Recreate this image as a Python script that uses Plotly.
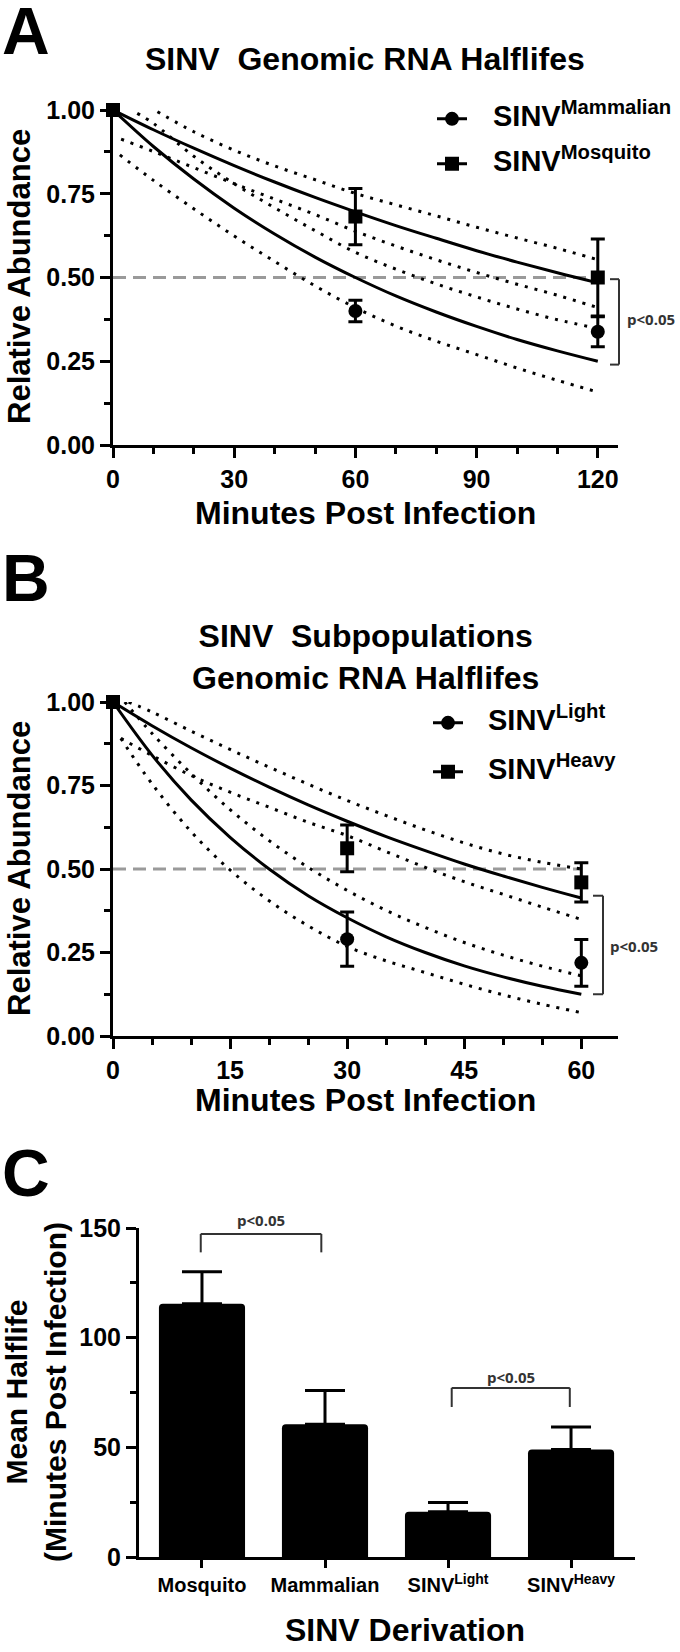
import plotly.graph_objects as go

W, H = 680, 1652


def px(x):
    return x / W


def py(y):
    return 1 - y / H


FONT = "Liberation Sans, Arial, Helvetica, sans-serif"
PFONT = "Open Sans, Liberation Sans, sans-serif"

# ---------------- Panel A data ----------------
a_time = [0, 60, 120]
a_mamm = [1.00, 0.400, 0.338]
a_mamm_err = [0, 0.032, 0.045]
a_mosq = [1.00, 0.682, 0.500]
a_mosq_err = [0, 0.084, 0.115]

a_fit_t = [0, 10, 20, 30, 40, 50, 60, 70, 80, 90, 100, 110, 120]
a_fit_mamm = [1.000, 0.891, 0.794, 0.707, 0.630, 0.561, 0.500, 0.445, 0.397, 0.354, 0.315, 0.281, 0.250]
a_fit_mosq = [1.000, 0.941, 0.886, 0.834, 0.785, 0.739, 0.696, 0.655, 0.617, 0.580, 0.546, 0.514, 0.484]

a_mosq_hi_t = [11, 20, 30, 40, 50, 60, 70, 80, 90, 100, 110, 120]
a_mosq_hi = [0.995, 0.935, 0.880, 0.833, 0.792, 0.751, 0.717, 0.684, 0.650, 0.618, 0.587, 0.553]
a_mosq_lo_t = [2, 10, 20, 30, 40, 50, 60, 70, 80, 90, 100, 110, 120]
a_mosq_lo = [0.913, 0.876, 0.828, 0.780, 0.734, 0.688, 0.638, 0.594, 0.553, 0.515, 0.480, 0.447, 0.410]
a_mamm_hi_t = [6, 10, 20, 30, 40, 50, 60, 70, 80, 90, 100, 110, 120]
a_mamm_hi = [0.990, 0.960, 0.862, 0.780, 0.708, 0.640, 0.575, 0.525, 0.481, 0.442, 0.406, 0.374, 0.348]
a_mamm_lo_t = [1.7, 10, 20, 30, 40, 50, 60, 70, 80, 90, 100, 110, 120]
a_mamm_lo = [0.866, 0.790, 0.705, 0.624, 0.548, 0.475, 0.410, 0.355, 0.310, 0.270, 0.230, 0.193, 0.158]

a_half_t = [0, 120]
a_half = [0.5, 0.5]

# ---------------- Panel B data ----------------
b_time = [0, 30, 60]
b_light = [1.00, 0.290, 0.219]
b_light_err = [0, 0.081, 0.070]
b_heavy = [1.00, 0.562, 0.460]
b_heavy_err = [0, 0.070, 0.059]

b_fit_t = [0, 5, 10, 15, 20, 25, 30, 35, 40, 45, 50, 55, 60]
b_fit_light = [1.000, 0.841, 0.707, 0.595, 0.500, 0.420, 0.354, 0.297, 0.250, 0.210, 0.177, 0.149, 0.125]
b_fit_heavy = [1.000, 0.929, 0.863, 0.802, 0.745, 0.692, 0.643, 0.597, 0.555, 0.515, 0.479, 0.445, 0.413]

b_heavy_hi_t = [2, 5, 10, 15, 20, 25, 30, 35, 40, 45, 50, 55, 60]
b_heavy_hi = [1.000, 0.970, 0.913, 0.858, 0.805, 0.754, 0.705, 0.660, 0.617, 0.578, 0.545, 0.520, 0.500]
b_heavy_lo_t = [1, 5, 10, 15, 20, 25, 30, 35, 40, 45, 50, 55, 60]
b_heavy_lo = [0.891, 0.840, 0.780, 0.730, 0.685, 0.640, 0.600, 0.552, 0.505, 0.462, 0.424, 0.386, 0.349]
b_light_hi_t = [1.5, 5, 10, 15, 20, 25, 30, 35, 40, 45, 50, 55, 60]
b_light_hi = [1.000, 0.906, 0.786, 0.678, 0.585, 0.505, 0.436, 0.376, 0.325, 0.280, 0.242, 0.209, 0.180]
b_light_lo_t = [1, 5, 10, 15, 20, 25, 30, 35, 40, 45, 50, 55, 60]
b_light_lo = [0.891, 0.755, 0.612, 0.497, 0.405, 0.330, 0.268, 0.225, 0.190, 0.155, 0.123, 0.095, 0.070]

b_half_t = [0, 60]
b_half = [0.5, 0.5]

# ---------------- Panel C data ----------------
c_categories = ["Mosquito", "Mammalian", "SINV<sup>Light</sup>", "SINV<sup>Heavy</sup>"]
c_halflife = [115.5, 60.5, 20.6, 49.0]
c_err = [14.6, 15.4, 4.2, 10.3]

# legend labels
a_labels = ["SINV<sup>Mammalian</sup>", "SINV<sup>Mosquito</sup>"]
b_labels = ["SINV<sup>Light</sup>", "SINV<sup>Heavy</sup>"]

# ---------------- styles ----------------
DOT = dict(color="black", width=3, dash="3px,7px", shape="spline")
SOLID = dict(color="black", width=3, shape="spline")
HALF = dict(color="#9a9a9a", width=3, dash="13px,7px")
LEGFONT = dict(family=FONT, size=29, color="black", weight="bold")

fig = go.Figure()


def add_panel(xa, ya, half_t, half, bands, fits, pts, leg_items):
    fig.add_trace(go.Scatter(x=half_t, y=half, mode="lines", line=HALF,
                             xaxis=xa, yaxis=ya, showlegend=False, hoverinfo="skip"))
    for bt, bv in bands:
        fig.add_trace(go.Scatter(x=bt, y=bv, mode="lines", line=DOT,
                                 xaxis=xa, yaxis=ya, showlegend=False, hoverinfo="skip"))
    for ft, fv in fits:
        fig.add_trace(go.Scatter(x=ft, y=fv, mode="lines", line=SOLID,
                                 xaxis=xa, yaxis=ya, showlegend=False, hoverinfo="skip"))
    for (t, v, e, sym, size) in pts:
        fig.add_trace(go.Scatter(
            x=t, y=v, mode="markers", cliponaxis=False,
            marker=dict(symbol=sym, size=size, color="black"),
            error_y=dict(type="data", array=e, visible=True, color="black",
                         thickness=3, width=7),
            xaxis=xa, yaxis=ya, showlegend=False))
    # legend symbols (text drawn as annotations)
    for (sym, size, leg) in leg_items:
        fig.add_trace(go.Scatter(
            x=[None], y=[None], mode="lines+markers", name=" ",
            line=dict(color="black", width=3),
            marker=dict(symbol=sym, size=size, color="black"),
            xaxis=xa, yaxis=ya, legend=leg))


add_panel("x", "y", a_half_t, a_half,
          [(a_mosq_hi_t, a_mosq_hi), (a_mosq_lo_t, a_mosq_lo),
           (a_mamm_hi_t, a_mamm_hi), (a_mamm_lo_t, a_mamm_lo)],
          [(a_fit_t, a_fit_mosq), (a_fit_t, a_fit_mamm)],
          [(a_time, a_mamm, a_mamm_err, "circle", 14),
           (a_time, a_mosq, a_mosq_err, "square", 14)],
          [("circle", 14, "legend"), ("square", 14, "legend2")])

add_panel("x2", "y2", b_half_t, b_half,
          [(b_heavy_hi_t, b_heavy_hi), (b_heavy_lo_t, b_heavy_lo),
           (b_light_hi_t, b_light_hi), (b_light_lo_t, b_light_lo)],
          [(b_fit_t, b_fit_heavy), (b_fit_t, b_fit_light)],
          [(b_time, b_light, b_light_err, "circle", 14),
           (b_time, b_heavy, b_heavy_err, "square", 14)],
          [("circle", 14, "legend3"), ("square", 14, "legend4")])

c_x = list(range(len(c_categories)))
fig.add_trace(go.Bar(
    x=c_x, y=c_halflife, width=0.7, xaxis="x3", yaxis="y3",
    marker=dict(color="black", line=dict(width=0), cornerradius=4),
    error_y=dict(type="data", array=c_err, arrayminus=[0] * len(c_err),
                 symmetric=False, visible=True, color="black", thickness=3, width=20),
    showlegend=False))


def ax(**kw):
    d = dict(showline=True, linewidth=3, linecolor="black", ticks="outside",
             ticklen=10, tickwidth=3, tickcolor="black", showgrid=False,
             zeroline=False, automargin=False, fixedrange=True,
             tickfont=dict(family=FONT, size=25, color="black", weight="bold"))
    d.update(kw)
    return d


MINOR = dict(ticks="outside", ticklen=6, tickwidth=3, tickcolor="black", showgrid=False)


def leg(x, y):
    return dict(x=px(x), y=py(y), xanchor="left", yanchor="middle", font=LEGFONT,
                bgcolor="rgba(0,0,0,0)", itemwidth=30, borderwidth=0)


xdom = [px(113), px(618)]
fig.update_layout(
    width=W, height=H, margin=dict(l=0, r=0, t=0, b=0),
    paper_bgcolor="white", plot_bgcolor="white",
    xaxis=ax(domain=xdom, range=[0, 125], tickvals=[0, 30, 60, 90, 120],
             minor=dict(dtick=10, tick0=0, **MINOR), anchor="y"),
    yaxis=ax(domain=[py(445), py(110)], range=[0, 1], tickvals=[0, 0.25, 0.5, 0.75, 1],
             tickformat=".2f", minor=dict(dtick=0.125, tick0=0, **MINOR), anchor="x"),
    xaxis2=ax(domain=xdom, range=[0, 64.7], tickvals=[0, 15, 30, 45, 60],
              minor=dict(dtick=5, tick0=0, **MINOR), anchor="y2"),
    yaxis2=ax(domain=[py(1036), py(702)], range=[0, 1], tickvals=[0, 0.25, 0.5, 0.75, 1],
              tickformat=".2f", minor=dict(dtick=0.125, tick0=0, **MINOR), anchor="x2"),
    xaxis3=ax(domain=[px(139), px(635)], range=[-0.512, 3.52], tickvals=c_x,
              ticktext=c_categories, ticklen=8,
              tickfont=dict(family=FONT, size=20, color="black", weight="bold"),
              anchor="y3"),
    yaxis3=ax(domain=[py(1557), py(1228)], range=[0, 150], tickvals=[0, 50, 100, 150],
              minor=dict(dtick=25, tick0=0, **MINOR), anchor="x3"),
    legend=leg(432, 119),
    legend2=leg(432, 164),
    legend3=leg(428, 723),
    legend4=leg(428, 772),
)


def note(text, x, y, size, xanchor="center", angle=0, xref="paper", yref="paper",
         family=FONT, color="black"):
    fig.add_annotation(text=text, x=x, y=y, xref=xref, yref=yref, showarrow=False,
                       xanchor=xanchor, yanchor="middle", textangle=angle,
                       font=dict(family=family, size=size, color=color, weight="bold"))


# legend texts
note(a_labels[0], px(491), py(114), 29, xanchor="left")
note(a_labels[1], px(491), py(159), 29, xanchor="left")
note(b_labels[0], px(486), py(718), 29, xanchor="left")
note(b_labels[1], px(486), py(767), 29, xanchor="left")

# panel letters
note("A", px(0), py(31), 66, xanchor="left")
note("B", px(0), py(578), 66, xanchor="left")
note("C", px(0), py(1173), 66, xanchor="left")

# titles
note("SINV\u00a0 Genomic RNA Halflifes", px(365), py(59), 32)
note("SINV\u00a0 Subpopulations<br>Genomic RNA Halflifes", px(365), py(657), 32)

# axis titles
note("Relative Abundance", px(19), py(277), 31, angle=-90)
note("Minutes Post Infection", px(365), py(513), 32)
note("Relative Abundance", px(19), py(869), 31, angle=-90)
note("Minutes Post Infection", px(365), py(1100), 32)
note("Mean Halflife<br>(Minutes Post Infection)", px(36), py(1392), 30, angle=-90)
note("SINV Derivation", px(405), py(1630), 32)

# significance brackets and labels
BR = dict(color="#333333", width=2)


def bracket_v(x0, x1, ytop, ybot, xref, yref):
    fig.add_shape(type="line", x0=x0, x1=x1, y0=ytop, y1=ytop, xref=xref, yref=yref, line=BR)
    fig.add_shape(type="line", x0=x1, x1=x1, y0=ytop, y1=ybot, xref=xref, yref=yref, line=BR)
    fig.add_shape(type="line", x0=x0, x1=x1, y0=ybot, y1=ybot, xref=xref, yref=yref, line=BR)


bracket_v(px(610), px(619), 0.495, 0.24, "paper", "y")
note("p<0.05", px(651), 0.375, 15, yref="y", family=PFONT, color="#333333")
bracket_v(px(593), px(603), 0.42, 0.125, "paper", "y2")
note("p<0.05", px(634), 0.27, 15, yref="y2", family=PFONT, color="#333333")


def bracket_h(xa, xb, ytop, ybot):
    fig.add_shape(type="line", x0=xa, x1=xb, y0=ytop, y1=ytop, xref="x3", yref="y3", line=BR)
    fig.add_shape(type="line", x0=xa, x1=xa, y0=ytop, y1=ybot, xref="x3", yref="y3", line=BR)
    fig.add_shape(type="line", x0=xb, x1=xb, y0=ytop, y1=ybot, xref="x3", yref="y3", line=BR)


bracket_h(-0.01, 0.97, 147.3, 138.9)
note("p<0.05", 0.48, py(1220), 15, xref="x3", yref="paper", family=PFONT, color="#333333")
bracket_h(2.03, 2.99, 77.1, 68.4)
note("p<0.05", 2.51, 82.0, 15, xref="x3", yref="y3", family=PFONT, color="#333333")

fig.write_html("out.html", config={"displayModeBar": False},
               post_script="document.body.style.margin='0';")
